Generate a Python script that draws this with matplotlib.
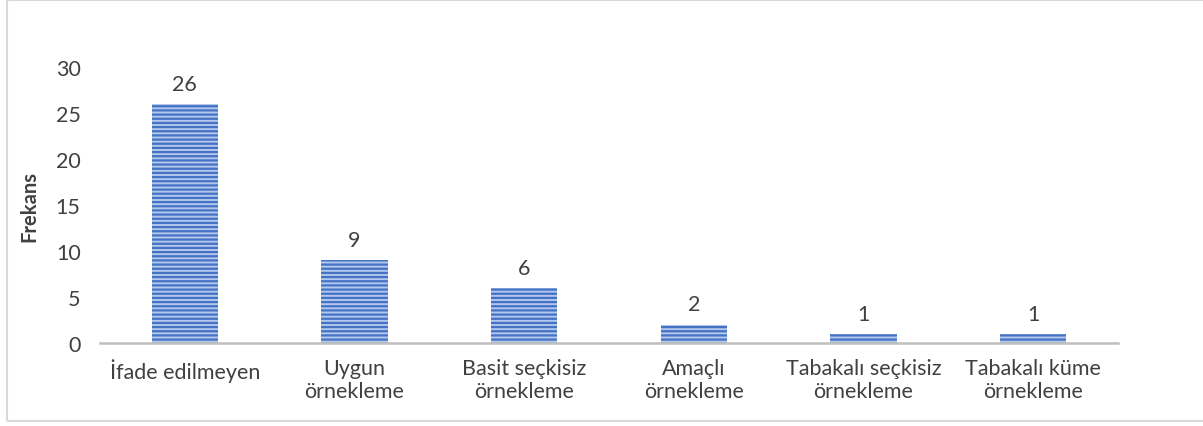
import matplotlib.pyplot as plt
from matplotlib.patches import Rectangle

# Data
categories = ['İfade edilmeyen', 'Uygun\nörnekleme', 'Basit seçkisiz\nörnekleme',
              'Amaçlı\nörnekleme', 'Tabakalı seçkisiz\nörnekleme', 'Tabakalı küme\nörnekleme']
values = [26, 9, 6, 2, 1, 1]
yticks = [0, 5, 10, 15, 20, 25, 30]

plt.rcParams['font.family'] = ['Lato', 'DejaVu Sans']
plt.rcParams['hatch.linewidth'] = 1.6
plt.rcParams['hatch.color'] = '#4472C4'

fig = plt.figure(figsize=(12.03, 4.27), dpi=100)
ax = fig.add_axes([100/1203, 83/427, 1018/1203, 276/427])

x = range(len(categories))
bars = ax.bar(x, values, width=0.39, color='#b4c7ec', edgecolor='#4472C4',
              hatch='----', linewidth=0)

for xi, v in zip(x, values):
    ax.text(xi, v + 1.1, str(v), ha='center', va='bottom', fontsize=15.5, color='#404040')

ax.set_xlim(-0.5, len(categories) - 0.5)
ax.set_ylim(0, 30)
ax.set_yticks(yticks)
ax.set_xticks(list(x))
ax.set_xticklabels(categories, fontsize=15.5, color='#404040', linespacing=1.2)
ax.tick_params(axis='y', length=0, labelsize=15.5, labelcolor='#404040', pad=14)
ax.tick_params(axis='x', length=0, pad=11)
for s in ['top', 'right', 'left']:
    ax.spines[s].set_visible(False)
ax.spines['bottom'].set_color('#bfbfbf')
ax.spines['bottom'].set_linewidth(1.8)
ax.set_ylabel('Frekans', fontsize=14.5, fontweight='bold', color='#404040', labelpad=12)

# outer chart border
fig.patches.append(Rectangle((7/1203, 5/427), 1.0, 421/427, transform=fig.transFigure,
                             fill=False, edgecolor='#d9d9d9', linewidth=1.5))

fig.savefig('out.png', dpi=100)
